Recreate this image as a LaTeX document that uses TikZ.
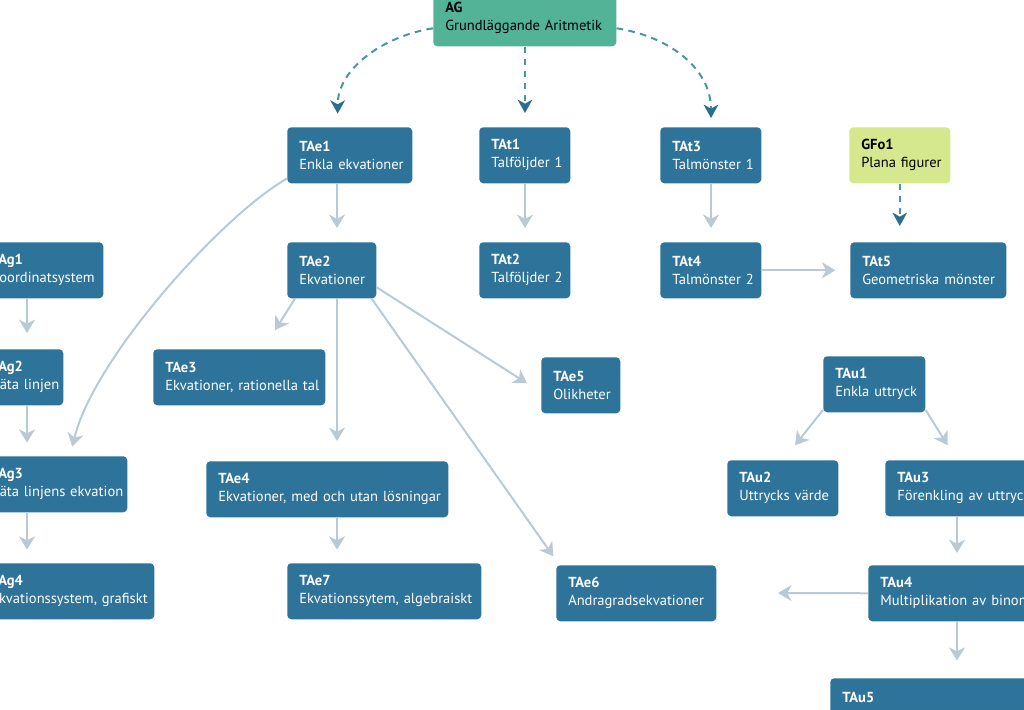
\documentclass[tikz,border=0pt]{standalone}
\usepackage{fontspec}
\setmainfont{PT Sans}
\usetikzlibrary{arrows.meta}
\definecolor{boxblue}{RGB}{46,115,153}
\definecolor{boxgreen}{RGB}{82,179,150}
\definecolor{boxlime}{RGB}{213,232,142}
\definecolor{linkgray}{RGB}{186,202,212}
\definecolor{dashteal}{RGB}{72,150,160}
\definecolor{tipblue}{RGB}{43,110,143}

\begin{document}
\begin{tikzpicture}[x=0.75pt,y=-0.75pt]
	\tikzstyle{box}=[rectangle,rounded corners=3pt,fill=boxblue,text=white,anchor=north west,align=left,minimum height=42pt,inner xsep=9pt,inner ysep=0pt,font=\fontsize{10.9}{13.5}\selectfont]
	\tikzstyle{link}=[draw=linkgray,line width=1.5pt,-{Stealth[length=10pt,width=12pt,inset=3pt]}]
	\tikzstyle{dlink}=[draw=dashteal,line width=1.5pt,dash pattern=on 5pt off 4pt,-{Stealth[length=10pt,width=11pt,inset=3pt,color=tipblue]}]
	\clip (0,0) rectangle (1024,710);
	\useasboundingbox (0,0) rectangle (1024,710);
	% top row
	\node[box,fill=boxgreen,text=black,text width=119.25pt] (ag) at (433,-10) {\textbf{AG}\\\mbox{Grundläggande Aritmetik}};
	\node[box,text width=75.75pt] (tae1) at (287,127) {\textbf{TAe1}\\\mbox{Enkla ekvationer}};
	\node[box,text width=50.25pt] (tat1) at (479,127) {\textbf{TAt1}\\\mbox{Talföljder 1}};
	\node[box,text width=57.75pt] (tat3) at (660,127) {\textbf{TAt3}\\\mbox{Talmönster 1}};
	\node[box,fill=boxlime,text=black,text width=57.75pt] (gfo1) at (849,127) {\textbf{GFo1}\\\mbox{Plana figurer}};
	% second row
	\node[box,text width=75pt] (ag1) at (-21,242) {\textbf{TAg1}\\\mbox{Koordinatsystem}};
	\node[box,text width=48.75pt] (tae2) at (287,242) {\textbf{TAe2}\\\mbox{Ekvationer}};
	\node[box,text width=50.25pt] (tat2) at (479,242) {\textbf{TAt2}\\\mbox{Talföljder 2}};
	\node[box,text width=57.75pt] (tat4) at (660,242) {\textbf{TAt4}\\\mbox{Talmönster 2}};
	\node[box,text width=99pt] (tat5) at (850,242) {\textbf{TAt5}\\\mbox{Geometriska mönster}};
	% third row
	\node[box,text width=45pt] (ag2) at (-21,349) {\textbf{TAg2}\\\mbox{Räta linjen}};
	\node[box,text width=111pt] (tae3) at (153,349) {\textbf{TAe3}\\\mbox{Ekvationer, rationella tal}};
	\node[box,text width=41.25pt] (tae5) at (541,357) {\textbf{TAe5}\\\mbox{Olikheter}};
	\node[box,text width=58.5pt] (tau1) at (823,356) {\textbf{TAu1}\\\mbox{Enkla uttryck}};
	% fourth row
	\node[box,text width=93pt] (ag3) at (-21,456) {\textbf{TAg3}\\\mbox{Räta linjens ekvation}};
	\node[box,text width=163.5pt] (tae4) at (206,461) {\textbf{TAe4}\\\mbox{Ekvationer, med och utan lösningar}};
	\node[box,text width=65.25pt] (tau2) at (727,460) {\textbf{TAu2}\\\mbox{Uttrycks värde}};
	\node[box,text width=102pt] (tau3) at (885,460) {\textbf{TAu3}\\\mbox{Förenkling av uttryck}};
	% fifth row
	\node[box,text width=113.25pt] (ag4) at (-21,563) {\textbf{TAg4}\\\mbox{Ekvationssystem, grafiskt}};
	\node[box,text width=127.5pt] (tae7) at (287,563) {\textbf{TAe7}\\\mbox{Ekvationssytem, algebraiskt}};
	\node[box,text width=102pt] (tae6) at (556,565) {\textbf{TAe6}\\\mbox{Andragradsekvationer}};
	\node[box,text width=117pt] (tau4) at (868,565) {\textbf{TAu4}\\\mbox{Multiplikation av binom}};
	\node[box,text width=132pt] (tau5) at (830,678) {\textbf{TAu5}\\\phantom{X}};
	\coordinate (tau4end) at (778,593);
	% dashed links
	\draw[dlink] ([yshift=-7.5pt]ag.west) .. controls +(-50,8) and +(0,-45) .. ([xshift=38pt,yshift=10pt]tae1.north west);
	\draw[dlink] ([xshift=69pt]ag.south west) -- ([xshift=34.5pt,yshift=10.5pt]tat1.north west);
	\draw[dlink] ([yshift=-7.5pt]ag.east) .. controls +(52,8) and +(0,-50) .. ([xshift=38.25pt,yshift=6.75pt]tat3.north west);
	\draw[dlink] (gfo1.south) -- ([yshift=12pt]gfo1.south |- tat5.north);
	% solid links
	\draw[link] ([xshift=37.5pt]tae1.south west) -- ([xshift=37.5pt,yshift=10.5pt]tae1.south west |- tae2.north);
	\draw[link] ([xshift=34.5pt]tat1.south west) -- ([xshift=34.5pt,yshift=10.5pt]tat1.south west |- tat2.north);
	\draw[link] ([xshift=38.25pt]tat3.south west) -- ([xshift=38.25pt,yshift=10.5pt]tat3.south west |- tat4.north);
	\draw[link] (tat4.east) -- ([xshift=-11pt]tat4.east -| tat5.west);
	\draw[link] ([xshift=36pt]ag1.south west) -- ([xshift=36pt,yshift=12pt]ag1.south west |- ag2.north);
	\draw[link] ([xshift=36pt]ag2.south west) -- ([xshift=36pt,yshift=10pt]ag2.south west |- ag3.north);
	\draw[link] ([xshift=36pt]ag3.south west) -- ([xshift=36pt,yshift=10pt]ag3.south west |- ag4.north);
	\draw[link] ([xshift=6pt]tae2.south west) -- ([xshift=91.5pt,yshift=14pt]tae3.north west);
	\draw[link] ([xshift=37.5pt]tae2.south west) -- ([xshift=37.5pt,yshift=15pt]tae2.south west |- tae4.north);
	\draw[link] ([yshift=-12.75pt]tae2.east) -- ([xshift=-10.5pt,yshift=1.5pt]tae5.west);
	\draw[link] ([xshift=-3.75pt]tae2.south east) -- ([xshift=-2pt,yshift=6.5pt]tae6.north west);
	\draw[link] ([xshift=98.25pt]tae4.south west) -- ([xshift=98.25pt,yshift=10pt]tae4.south west |- tae7.north);
	\draw[link] ([yshift=3.75pt]tae1.south west) .. controls +(-65,37) and +(21,-88) .. ([xshift=70pt,yshift=7pt]ag3.north west);
	\draw[link] ([yshift=2pt]tau1.south west) -- ([xshift=51pt,yshift=11pt]tau2.north west);
	\draw[link] ([yshift=2pt]tau1.south east) -- ([xshift=47pt,yshift=11pt]tau3.north west);
	\draw[link] ([xshift=54pt]tau3.south west) -- ([xshift=54pt,yshift=9pt]tau3.south west |- tau4.north);
	\draw[link] (tau4.west) -- (tau4end);
	\draw[link] ([xshift=66.75pt]tau4.south west) -- ([xshift=66.75pt,yshift=13pt]tau4.south west |- tau5.north);
\end{tikzpicture}
\end{document}
